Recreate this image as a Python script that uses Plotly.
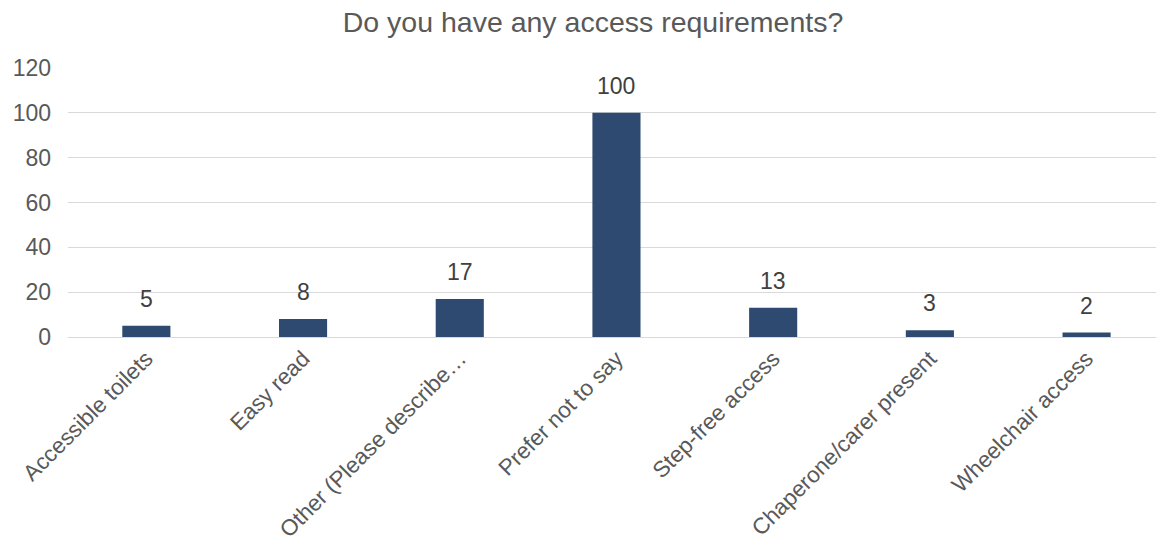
import plotly.graph_objects as go

# Survey responses: "Do you have any access requirements?"
categories = [
    "Accessible toilets",
    "Easy read",
    "Other (Please describe…",
    "Prefer not to say",
    "Step-free access",
    "Chaperone/carer present",
    "Wheelchair access",
]
counts = [5, 8, 17, 100, 13, 3, 2]
y_ticks = [0, 20, 40, 60, 80, 100, 120]

FONT = "Liberation Sans, Arial, sans-serif"
GREY = "#595959"
BAR = "#2E4A70"

fig = go.Figure(
    go.Bar(
        x=categories,
        y=counts,
        width=0.307,
        marker=dict(color=BAR, line=dict(width=0)),
        hovertemplate="%{x}: %{y}<extra></extra>",
    )
)

# value labels sitting a little above each bar
for cat, val in zip(categories, counts):
    fig.add_annotation(
        x=cat,
        y=val,
        text=str(val),
        showarrow=False,
        yanchor="bottom",
        yshift=12,
        font=dict(family=FONT, size=23, color="#404040"),
    )

fig.update_layout(
    width=1156,
    height=547,
    margin=dict(l=68, r=0, t=68, b=210),
    paper_bgcolor="white",
    plot_bgcolor="white",
    showlegend=False,
    title=dict(
        text="Do you have any access requirements?",
        font=dict(family=FONT, size=28.5, color=GREY),
        x=0.513,
        xref="container",
        xanchor="center",
        y=0.96,
        yref="container",
        yanchor="middle",
    ),
    font=dict(family=FONT, color=GREY),
)

fig.update_xaxes(
    range=[-0.5, 6.443],
    tickangle=-45,
    tickfont=dict(family=FONT, size=22.5, color=GREY),
    ticklabelstandoff=3,
    showgrid=False,
    showline=False,
    zeroline=False,
    automargin=False,
)

fig.update_yaxes(
    range=[0, 120],
    tickvals=y_ticks,
    tickfont=dict(family=FONT, size=23, color=GREY),
    showgrid=True,
    gridcolor="#d9d9d9",
    gridwidth=1,
    zeroline=True,
    zerolinecolor="#d9d9d9",
    zerolinewidth=1,
    showline=False,
    ticklabelstandoff=16,
    automargin=False,
)

fig.write_html("out.html")
